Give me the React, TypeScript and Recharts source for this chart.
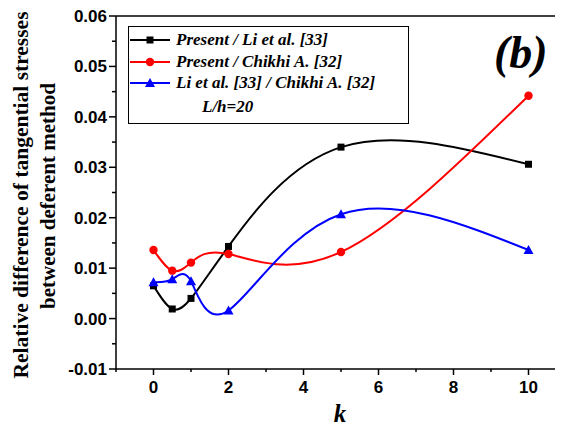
import React from "react";
import { LineChart, Line, XAxis, YAxis, ReferenceLine, Legend } from "recharts";

const kValues = [0, 0.5, 1, 2, 5, 10];
const presentVsLi = [0.0065, 0.0019, 0.004, 0.0143, 0.034, 0.0306];
const presentVsChikhi = [0.0136, 0.0095, 0.0111, 0.0128, 0.0132, 0.0442];
const liVsChikhi = [0.0072, 0.0078, 0.0074, 0.0016, 0.0207, 0.0136];

const seriesNames = [
  "Present / Li et al. [33]",
  "Present / Chikhi A. [32]",
  "Li et al. [33] / Chikhi A. [32]",
];
const seriesColors = ["#000000", "#ff0000", "#0000ff"];
const noteText = "L/h=20";

const yTicks = [
  -0.01, -0.005, 0, 0.005, 0.01, 0.015, 0.02, 0.025, 0.03, 0.035, 0.04, 0.045, 0.05, 0.055, 0.06,
];
const xTicks = [-1, 0, 1, 2, 3, 4, 5, 6, 7, 8, 9, 10, 11];

const data = kValues.map((k, i) => ({
  k,
  a: presentVsLi[i],
  b: presentVsChikhi[i],
  c: liVsChikhi[i],
}));

const SANS = "Liberation Sans";
const SERIF = "Liberation Serif";

const isMajorY = (v: number) => Math.abs(v * 100 - Math.round(v * 100)) < 1e-6;

const YTick = (props: any) => {
  const { x, y, payload } = props;
  const v = payload.value as number;
  const major = isMajorY(v);
  return (
    <g>
      <line x1={x} x2={x - (major ? 7 : 4)} y1={y} y2={y} stroke="#000" strokeWidth={1.5} />
      {major && (
        <text
          x={x - 9}
          y={y}
          dy={6}
          textAnchor="end"
          style={{ fontFamily: SANS, fontWeight: "bold", fontSize: 17 }}
          fill="#000"
        >
          {v.toFixed(2)}
        </text>
      )}
    </g>
  );
};

const XTick = (props: any) => {
  const { x, y, payload } = props;
  const v = payload.value as number;
  const major = v % 2 === 0;
  const showLabel = major && v >= 0 && v <= 10;
  return (
    <g>
      <line x1={x} x2={x} y1={y} y2={y + (major ? 6 : 3)} stroke="#000" strokeWidth={1.5} />
      {showLabel && (
        <text
          x={x}
          y={y + 24}
          textAnchor="middle"
          style={{ fontFamily: SANS, fontWeight: "bold", fontSize: 17 }}
          fill="#000"
        >
          {v}
        </text>
      )}
    </g>
  );
};

const SquareDot = (props: any) => {
  const { cx, cy } = props;
  if (cx == null || cy == null) return null;
  return <rect x={cx - 3.5} y={cy - 3.5} width={7} height={7} fill="#000" />;
};
const CircleDot = (props: any) => {
  const { cx, cy } = props;
  if (cx == null || cy == null) return null;
  return <circle cx={cx} cy={cy} r={4.2} fill="#ff0000" />;
};
const TriDot = (props: any) => {
  const { cx, cy } = props;
  if (cx == null || cy == null) return null;
  return (
    <polygon
      points={`${cx},${cy - 5} ${cx - 5},${cy + 4} ${cx + 5},${cy + 4}`}
      fill="#0000ff"
    />
  );
};

const markerFor = (i: number, cx: number, cy: number) => {
  if (i === 0) return <rect x={cx - 3.5} y={cy - 3.5} width={7} height={7} fill="#000" />;
  if (i === 1) return <circle cx={cx} cy={cy} r={4.2} fill="#ff0000" />;
  return (
    <polygon points={`${cx},${cy - 5} ${cx - 5},${cy + 4} ${cx + 5},${cy + 4}`} fill="#0000ff" />
  );
};

const serifStyle = (size: number, italic: boolean): React.CSSProperties => ({
  fontFamily: SERIF,
  fontWeight: "bold",
  fontStyle: italic ? "italic" : "normal",
  fontSize: size,
});

const LegendBox = () => {
  const rows = [19, 41, 62];
  return (
    <svg width={281} height={98} style={{ display: "block" }}>
      <rect x={0.5} y={0.5} width={280} height={97} fill="#fff" stroke="#000" strokeWidth={1} />
      {seriesNames.map((name, i) => (
        <g key={name}>
          <line
            x1={2}
            x2={42}
            y1={rows[i] - 5}
            y2={rows[i] - 5}
            stroke={seriesColors[i]}
            strokeWidth={2}
          />
          {markerFor(i, 22, rows[i] - 5)}
          <text x={48} y={rows[i]} style={serifStyle(17, true)} fill="#000">
            {name}
          </text>
        </g>
      ))}
      <text x={74} y={86} style={serifStyle(17, true)} fill="#000">
        {noteText}
      </text>
    </svg>
  );
};

const YLabel = () => (
  <g>
    <text
      transform="translate(20,187) rotate(-90)"
      textAnchor="middle"
      style={serifStyle(21.5, false)}
      fill="#000"
    >
      Relative difference of tangential stresses
    </text>
    <text
      transform="translate(47,188) rotate(-90)"
      textAnchor="middle"
      style={serifStyle(21, false)}
      fill="#000"
    >
      between deferent method
    </text>
  </g>
);

const XLabel = () => (
  <text x={332} y={414} textAnchor="middle" style={serifStyle(25, true)} fill="#000">
    k
  </text>
);

const PanelLabel = () => (
  <text x={486} y={60} textAnchor="start" style={serifStyle(46, true)} fill="#000">
    (b)
  </text>
);

export default function App() {
  return (
    <div style={{ position: "relative", width: 555, height: 420, overflow: "hidden" }}>
      <LineChart
        width={560}
        height={420}
        data={data}
        margin={{ top: 8, right: 2, bottom: 0, left: 0 }}
      >
        <XAxis
          dataKey="k"
          type="number"
          domain={[-1, 11]}
          ticks={xTicks}
          interval={0}
          tickSize={0}
          tickMargin={0}
          tickLine={false}
          tick={<XTick />}
          height={59}
          axisLine={{ stroke: "#000", strokeWidth: 1.5 }}
          label={<XLabel />}
        />
        <YAxis
          type="number"
          domain={[-0.01, 0.06]}
          ticks={yTicks}
          interval={0}
          tickSize={0}
          tickMargin={0}
          tickLine={false}
          tick={<YTick />}
          width={108}
          axisLine={{ stroke: "#000", strokeWidth: 1.5 }}
          label={<YLabel />}
        />
        <ReferenceLine y={0.06} stroke="#000" strokeWidth={1.5} label={<PanelLabel />} />
        <Legend
          layout="vertical"
          align="center"
          verticalAlign="middle"
          width={281}
          height={98}
          wrapperStyle={{ position: "absolute", left: 120, top: 18, width: 281, height: 98 }}
          content={() => <LegendBox />}
        />
        <Line
          type="natural"
          dataKey="a"
          name={seriesNames[0]}
          stroke={seriesColors[0]}
          strokeWidth={2}
          dot={<SquareDot />}
          activeDot={false}
          isAnimationActive={false}
        />
        <Line
          type="natural"
          dataKey="b"
          name={seriesNames[1]}
          stroke={seriesColors[1]}
          strokeWidth={2}
          dot={<CircleDot />}
          activeDot={false}
          isAnimationActive={false}
        />
        <Line
          type="natural"
          dataKey="c"
          name={seriesNames[2]}
          stroke={seriesColors[2]}
          strokeWidth={2}
          dot={<TriDot />}
          activeDot={false}
          isAnimationActive={false}
        />
      </LineChart>
    </div>
  );
}
